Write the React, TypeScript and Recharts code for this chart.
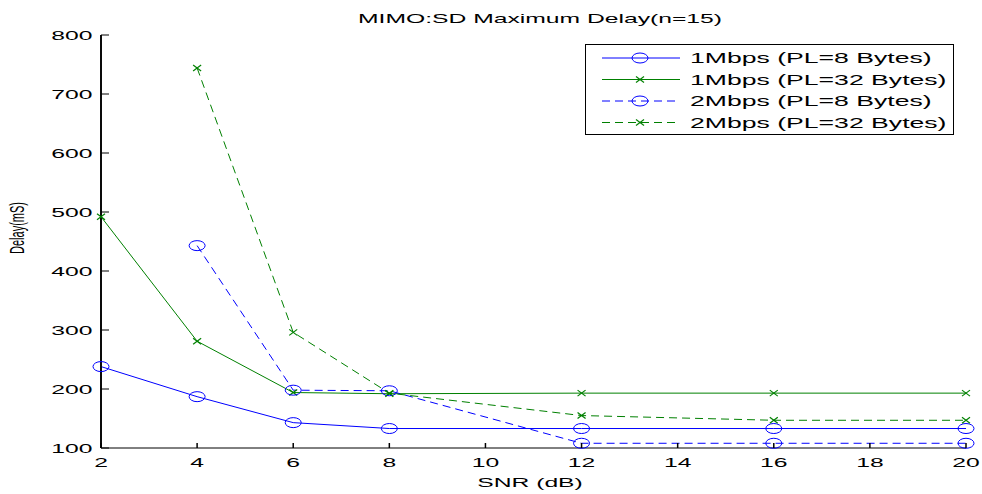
import React from 'react';
import { LineChart, Line, XAxis, YAxis, Customized, ReferenceLine } from 'recharts';

const snr1M = [2, 4, 6, 8, 12, 16, 20];
const delay1M_PL8 = [238, 187, 143, 133, 133, 133, 133];
const delay1M_PL32 = [492, 281, 194, 192, 193, 193, 193];
const snr2M = [4, 6, 8, 12, 16, 20];
const delay2M_PL8 = [443, 198, 197, 108, 108, 108];
const delay2M_PL32 = [744, 296, 193, 155, 147, 147];
const xTicks = [2, 4, 6, 8, 10, 12, 14, 16, 18, 20];
const yTicks = [100, 200, 300, 400, 500, 600, 700, 800];

const titleText = 'MIMO:SD Maximum Delay(n=15)';
const xLabel = 'SNR (dB)';
const yLabel = 'Delay(mS)';

const BLUE = '#0000ff';
const GREEN = '#008000';
const SX = 1.9;
const FONT = '"Liberation Sans", Arial, Helvetica, sans-serif';

const toRows = (xs: number[], ys: number[]) => xs.map((x, i) => ({ x, y: ys[i] }));

type Series = { name: string; data: { x: number; y: number }[]; color: string; marker: 'o' | 'x'; dashed: boolean };

const series: Series[] = [
  { name: '1Mbps (PL=8 Bytes)', data: toRows(snr1M, delay1M_PL8), color: BLUE, marker: 'o', dashed: false },
  { name: '1Mbps (PL=32 Bytes)', data: toRows(snr1M, delay1M_PL32), color: GREEN, marker: 'x', dashed: false },
  { name: '2Mbps (PL=8 Bytes)', data: toRows(snr2M, delay2M_PL8), color: BLUE, marker: 'o', dashed: true },
  { name: '2Mbps (PL=32 Bytes)', data: toRows(snr2M, delay2M_PL32), color: GREEN, marker: 'x', dashed: true },
];

const DASH = '8 5';

const Marker = ({ cx, cy, color, marker }: { cx: number; cy: number; color: string; marker: 'o' | 'x' }) => {
  if (marker === 'o') {
    return <ellipse cx={cx} cy={cy} rx={8} ry={5} fill="none" stroke={color} strokeWidth={1} />;
  }
  return (
    <g stroke={color} strokeWidth={1.2}>
      <line x1={cx - 4} y1={cy - 3} x2={cx + 4} y2={cy + 3} />
      <line x1={cx - 4} y1={cy + 3} x2={cx + 4} y2={cy - 3} />
    </g>
  );
};

const SText = ({ x, y, anchor, size, children, weight }: any) => (
  <text
    transform={`translate(${x},${y}) scale(${SX},1)`}
    textAnchor={anchor}
    fontSize={size}
    fontFamily={FONT}
    fontWeight={weight}
    fill="#000"
  >
    {children}
  </text>
);

const XTick = (props: any) => {
  const { x, y, payload } = props;
  return (
    <g>
      <line x1={x} y1={y} x2={x} y2={y - 5} stroke="#000" strokeWidth={1.5} />
      <SText x={x} y={y + 19} anchor="middle" size={13}>{payload.value}</SText>
    </g>
  );
};

const YTick = (props: any) => {
  const { x, y, payload } = props;
  return (
    <g>
      <line x1={x} y1={y} x2={x + 8} y2={y} stroke="#000" strokeWidth={1} />
      <SText x={x - 8.5} y={y + 4.5} anchor="end" size={13}>{payload.value}</SText>
    </g>
  );
};

const LegendBox = () => (
  <g transform="translate(585,44)">
    <rect x={0.5} y={0.5} width={368} height={90} fill="#fff" stroke="#000" strokeWidth={1} />
    {series.map((s, i) => {
      const cy = 14 + i * 21.5;
      return (
        <g key={s.name}>
          <line x1={17} y1={cy} x2={95} y2={cy} stroke={s.color} strokeWidth={1} strokeDasharray={s.dashed ? DASH : undefined} />
          <Marker cx={55} cy={cy} color={s.color} marker={s.marker} />
          <SText x={105} y={cy + 5} anchor="start" size={14}>{s.name}</SText>
        </g>
      );
    })}
  </g>
);

const Decorations = () => (
  <g>
    <SText x={540} y={23} anchor="middle" size={13}>{titleText}</SText>
    <SText x={530} y={487} anchor="middle" size={13}>{xLabel}</SText>
    <text
      transform={`translate(24,228) scale(${SX},1) rotate(-90)`}
      textAnchor="middle"
      fontSize={11}
      fontFamily={FONT}
      fill="#000"
    >
      {yLabel}
    </text>
    <LegendBox />
  </g>
);

export default function App() {
  return (
    <div style={{ position: 'absolute', left: 0, top: 0, width: 982, height: 494, background: '#fff' }}>
      <LineChart width={982} height={494} margin={{ top: 35, right: 16, bottom: 45, left: 0 }}>
        <XAxis
          type="number"
          dataKey="x"
          domain={[2, 20]}
          ticks={xTicks}
          interval={0}
          height={1}
          tickSize={0}
          tickMargin={0}
          stroke="#000"
          axisLine={{ stroke: '#000', strokeWidth: 1 }}
          tick={<XTick />}
          allowDuplicatedCategory={false}
        />
        <YAxis
          type="number"
          dataKey="y"
          domain={[100, 800]}
          ticks={yTicks}
          interval={0}
          width={101}
          tickSize={0}
          tickMargin={0}
          stroke="#000"
          axisLine={{ stroke: '#000', strokeWidth: 1.6 }}
          tick={<YTick />}
        />
        <ReferenceLine x={xTicks[0]} stroke="#000" strokeWidth={1.6} />
        {series.map((s) => (
          <Line
            key={s.name}
            data={s.data}
            dataKey="y"
            name={s.name}
            type="linear"
            stroke={s.color}
            strokeWidth={1}
            strokeDasharray={s.dashed ? DASH : undefined}
            isAnimationActive={false}
            dot={(p: any) => <Marker key={`${s.name}-${p.index}`} cx={p.cx} cy={p.cy} color={s.color} marker={s.marker} />}
            activeDot={false}
          />
        ))}
        <Customized component={Decorations} />
      </LineChart>
    </div>
  );
}
